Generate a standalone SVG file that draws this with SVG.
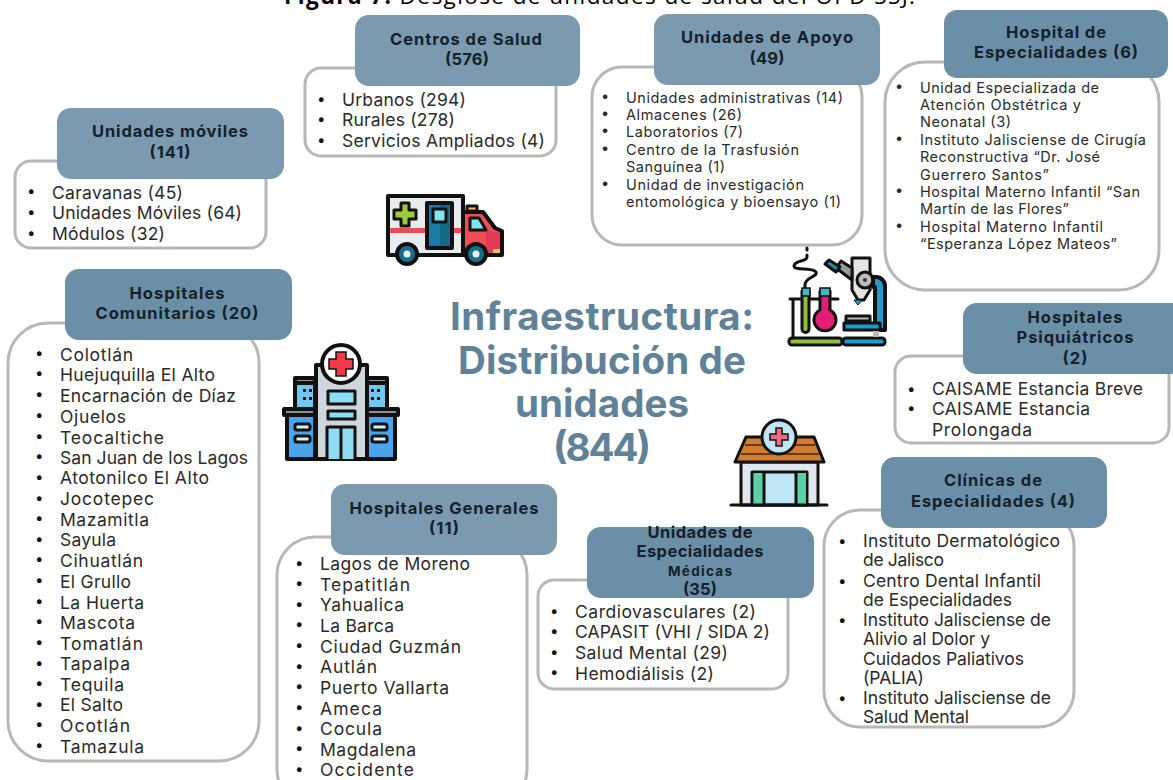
<svg xmlns="http://www.w3.org/2000/svg" width="1173" height="780" viewBox="0 0 1173 780">
<style>
text{font-family:"Inter","Noto Sans","Liberation Sans",sans-serif;fill:#222}
.body{fill:#fff;stroke:#b7b7b7;stroke-width:3}
.h1{fill:#7b9aaf}.h2{fill:#6b8fa6}
.hd{font-weight:700;font-size:16.5px;fill:#14202a;text-anchor:middle}
.l{font-size:17.5px;fill:#2a2a2a}
.s{font-size:14.5px;fill:#2a2a2a}
.b{font-size:15px;fill:#111}
.t{font-size:38.5px;font-weight:700;fill:#5f8298;text-anchor:middle}
.k{stroke:#111;stroke-width:4;stroke-linejoin:round;stroke-linecap:round}
.k2{stroke:#111;stroke-width:3;stroke-linejoin:round;stroke-linecap:round}
</style>
<rect width="1173" height="780" fill="#fff"/>
<g id="title"><text x="284" y="4" textLength="631" style="font-family:'Open Sans','Liberation Sans',sans-serif;font-size:22.5px;fill:#000;font-weight:500"><tspan font-weight="700">Figura 7.</tspan> Desglose de unidades de salud del OPD SSJ.</text></g>

<g id="centros-salud">
<rect class="body" x="305" y="68" width="251" height="88" rx="16"/>
<rect class="h1" x="355" y="15" width="225" height="71" rx="14"/>
<text class="hd" x="466" y="45" textLength="152">Centros de Salud</text><text class="hd" x="467" y="65" textLength="44">(576)</text>
<text class="b" x="317" y="104">•</text><text class="l" x="342" y="106" textLength="124">Urbanos (294)</text>
<text class="b" x="317" y="124">•</text><text class="l" x="342" y="126" textLength="113">Rurales (278)</text>
<text class="b" x="317" y="145">•</text><text class="l" x="342" y="147" textLength="203">Servicios Ampliados (4)</text>
</g>

<g id="unidades-apoyo">
<rect class="body" x="592" y="67" width="270" height="178" rx="30"/>
<rect class="h1" x="654" y="14" width="226" height="71" rx="14"/>
<text class="hd" x="767" y="43" textLength="172">Unidades de Apoyo</text><text class="hd" x="767" y="64" textLength="35">(49)</text>
<text class="s" x="601" y="101">•</text><text class="s" x="626" y="103" textLength="217">Unidades administrativas (14)</text>
<text class="s" x="601" y="118">•</text><text class="s" x="626" y="120" textLength="116">Almacenes (26)</text>
<text class="s" x="601" y="135">•</text><text class="s" x="626" y="137" textLength="117">Laboratorios (7)</text>
<text class="s" x="601" y="153">•</text><text class="s" x="626" y="155" textLength="173">Centro de la Trasfusión</text>
<text class="s" x="626" y="172" textLength="99">Sanguínea (1)</text>
<text class="s" x="601" y="188">•</text><text class="s" x="626" y="190" textLength="178">Unidad de investigación</text>
<text class="s" x="626" y="207" textLength="215">entomológica y bioensayo (1)</text>
</g>

<g id="hospital-especialidades">
<rect class="body" x="885" y="62" width="274" height="228" rx="40"/>
<rect class="h2" x="944" y="10" width="224" height="68" rx="13"/>
<text class="hd" x="1056" y="38" textLength="100">Hospital de</text><text class="hd" x="1056" y="58" textLength="164">Especialidades (6)</text>
<text class="s" x="895" y="91">•</text><text class="s" x="920" y="93" textLength="179">Unidad Especializada de</text>
<text class="s" x="920" y="110" textLength="161">Atención Obstétrica y</text>
<text class="s" x="920" y="127" textLength="91">Neonatal (3)</text>
<text class="s" x="895" y="143">•</text><text class="s" x="920" y="145" textLength="226">Instituto Jalisciense de Cirugía</text>
<text class="s" x="920" y="162" textLength="180">Reconstructiva “Dr. José</text>
<text class="s" x="920" y="180" textLength="129">Guerrero Santos”</text>
<text class="s" x="895" y="195">•</text><text class="s" x="920" y="197" textLength="220">Hospital Materno Infantil “San</text>
<text class="s" x="920" y="214" textLength="149">Martín de las Flores”</text>
<text class="s" x="895" y="230">•</text><text class="s" x="920" y="232" textLength="183">Hospital Materno Infantil</text>
<text class="s" x="920" y="249" textLength="197">“Esperanza López Mateos”</text>
</g>

<g id="unidades-moviles">
<rect class="body" x="15" y="161" width="251" height="87" rx="16"/>
<rect class="h1" x="57" y="108" width="227" height="71" rx="14"/>
<text class="hd" x="170" y="137" textLength="156">Unidades móviles</text><text class="hd" x="170" y="158" textLength="41">(141)</text>
<text class="b" x="27" y="196">•</text><text class="l" x="52" y="199" textLength="131">Caravanas (45)</text>
<text class="b" x="27" y="217">•</text><text class="l" x="52" y="219" textLength="190">Unidades Móviles (64)</text>
<text class="b" x="27" y="238">•</text><text class="l" x="52" y="240" textLength="113">Módulos (32)</text>
</g>

<g id="hospitales-comunitarios">
<rect class="body" x="8" y="323" width="251" height="438" rx="40"/>
<rect class="h2" x="65" y="269" width="227" height="71" rx="14"/>
<text class="hd" x="177" y="299" textLength="95">Hospitales</text><text class="hd" x="177" y="319" textLength="163">Comunitarios (20)</text>
<text class="b" x="35" y="358">•</text><text class="l" x="60" y="361" textLength="73">Colotlán</text>
<text class="b" x="35" y="378">•</text><text class="l" x="60" y="381" textLength="155">Huejuquilla El Alto</text>
<text class="b" x="35" y="399">•</text><text class="l" x="60" y="402" textLength="176">Encarnación de Díaz</text>
<text class="b" x="35" y="420">•</text><text class="l" x="60" y="423" textLength="66">Ojuelos</text>
<text class="b" x="35" y="441">•</text><text class="l" x="60" y="444" textLength="104">Teocaltiche</text>
<text class="b" x="35" y="461">•</text><text class="l" x="60" y="464" textLength="188">San Juan de los Lagos</text>
<text class="b" x="35" y="482">•</text><text class="l" x="60" y="484" textLength="149">Atotonilco El Alto</text>
<text class="b" x="35" y="503">•</text><text class="l" x="60" y="505" textLength="94">Jocotepec</text>
<text class="b" x="35" y="523">•</text><text class="l" x="60" y="526" textLength="89">Mazamitla</text>
<text class="b" x="35" y="544">•</text><text class="l" x="60" y="546" textLength="56">Sayula</text>
<text class="b" x="35" y="564">•</text><text class="l" x="60" y="567" textLength="83">Cihuatlán</text>
<text class="b" x="35" y="585">•</text><text class="l" x="60" y="588" textLength="71">El Grullo</text>
<text class="b" x="35" y="606">•</text><text class="l" x="60" y="609" textLength="84">La Huerta</text>
<text class="b" x="35" y="626">•</text><text class="l" x="60" y="629" textLength="75">Mascota</text>
<text class="b" x="35" y="647">•</text><text class="l" x="60" y="650" textLength="83">Tomatlán</text>
<text class="b" x="35" y="668">•</text><text class="l" x="60" y="670" textLength="70">Tapalpa</text>
<text class="b" x="35" y="688">•</text><text class="l" x="60" y="691" textLength="64">Tequila</text>
<text class="b" x="35" y="709">•</text><text class="l" x="60" y="711" textLength="63">El Salto</text>
<text class="b" x="35" y="729">•</text><text class="l" x="60" y="732" textLength="70">Ocotlán</text>
<text class="b" x="35" y="750">•</text><text class="l" x="60" y="753" textLength="84">Tamazula</text>
</g>

<g id="hospitales-generales">
<rect class="body" x="277" y="537" width="250" height="270" rx="38"/>
<rect class="h1" x="331" y="484" width="226" height="71" rx="14"/>
<text class="hd" x="444" y="514" textLength="189">Hospitales Generales</text><text class="hd" x="444" y="534" textLength="30">(11)</text>
<text class="b" x="295" y="568">•</text><text class="l" x="320" y="570" textLength="150">Lagos de Moreno</text>
<text class="b" x="295" y="588">•</text><text class="l" x="320" y="591" textLength="90">Tepatitlán</text>
<text class="b" x="295" y="609">•</text><text class="l" x="320" y="611" textLength="84">Yahualica</text>
<text class="b" x="295" y="629">•</text><text class="l" x="320" y="632" textLength="74">La Barca</text>
<text class="b" x="295" y="650">•</text><text class="l" x="320" y="653" textLength="141">Ciudad Guzmán</text>
<text class="b" x="295" y="671">•</text><text class="l" x="320" y="673" textLength="57">Autlán</text>
<text class="b" x="295" y="691">•</text><text class="l" x="320" y="694" textLength="129">Puerto Vallarta</text>
<text class="b" x="295" y="712">•</text><text class="l" x="320" y="715" textLength="62">Ameca</text>
<text class="b" x="295" y="733">•</text><text class="l" x="320" y="735" textLength="62">Cocula</text>
<text class="b" x="295" y="753">•</text><text class="l" x="320" y="756" textLength="96">Magdalena</text>
<text class="b" x="295" y="774">•</text><text class="l" x="320" y="776" textLength="94">Occidente</text>
</g>

<g id="unidades-especialidades-medicas">
<rect class="body" x="538" y="580" width="250" height="109" rx="16"/>
<rect class="h2" x="587" y="527" width="227" height="71" rx="14"/>
<text class="hd" x="700" y="538" textLength="105">Unidades de</text><text class="hd" x="700" y="557" textLength="127">Especialidades</text>
<text class="hd" x="700" y="576" style="font-size:13.5px" textLength="64">Médicas</text><text class="hd" x="700" y="595" textLength="34">(35)</text>
<text class="b" x="550" y="616">•</text><text class="l" x="575" y="618" textLength="181">Cardiovasculares (2)</text>
<text class="b" x="550" y="636">•</text><text class="l" x="575" y="638" textLength="195">CAPASIT (VHI  / SIDA 2)</text>
<text class="b" x="550" y="657">•</text><text class="l" x="575" y="659" textLength="153">Salud Mental (29)</text>
<text class="b" x="550" y="677">•</text><text class="l" x="575" y="680" textLength="139">Hemodiálisis (2)</text>
</g>

<g id="clinicas-especialidades">
<rect class="body" x="824" y="510" width="250" height="217" rx="36"/>
<rect class="h2" x="881" y="457" width="226" height="71" rx="14"/>
<text class="hd" x="993" y="486" textLength="98">Clínicas de</text><text class="hd" x="993" y="507" textLength="164">Especialidades (4)</text>
<text class="b" x="838" y="546">•</text><text class="l" x="863" y="547" textLength="197">Instituto Dermatológico</text>
<text class="l" x="863" y="566" textLength="81">de Jalisco</text>
<text class="b" x="838" y="586">•</text><text class="l" x="863" y="587" textLength="178">Centro Dental Infantil</text>
<text class="l" x="863" y="606" textLength="149">de Especialidades</text>
<text class="b" x="838" y="625">•</text><text class="l" x="863" y="626" textLength="188">Instituto Jalisciense de</text>
<text class="l" x="863" y="645" textLength="127">Alivio al Dolor y</text>
<text class="l" x="863" y="665" textLength="161">Cuidados Paliativos</text>
<text class="l" x="863" y="684" textLength="61">(PALIA)</text>
<text class="b" x="838" y="703">•</text><text class="l" x="863" y="704" textLength="188">Instituto Jalisciense de</text>
<text class="l" x="863" y="723" textLength="106">Salud Mental</text>
</g>

<g id="hospitales-psiquiatricos">
<rect class="body" x="895" y="356" width="274" height="87" rx="16"/>
<rect class="h2" x="963" y="303" width="225" height="71" rx="14"/>
<text class="hd" x="1075" y="323" textLength="95">Hospitales</text><text class="hd" x="1075" y="343" textLength="117">Psiquiátricos</text><text class="hd" x="1075" y="364" textLength="25">(2)</text>
<text class="b" x="907" y="394">•</text><text class="l" x="932" y="395" textLength="211">CAISAME Estancia Breve</text>
<text class="b" x="907" y="413">•</text><text class="l" x="932" y="415" textLength="158">CAISAME Estancia</text>
<text class="l" x="932" y="436" textLength="100">Prolongada</text>
</g>

<g id="infraestructura">
<text class="t" x="602" y="330" textLength="304">Infraestructura:</text>
<text class="t" x="602" y="374" textLength="288">Distribución de</text>
<text class="t" x="602" y="417" textLength="174">unidades</text>
<text class="t" x="602" y="461" textLength="98">(844)</text>
</g>

<g id="icono-ambulancia">
<path class="k" d="M388 196h75v59h-75z" fill="#e8ecec"/>
<path d="M390 228h72v5h-72z" fill="#ef4b55"/>
<path class="k" d="M463 212h20l12 16 7 3v24h-39z" fill="#f04d57"/>
<path d="M486 230l14 3v20h-14z" fill="#e23a55"/>
<path class="k2" d="M470 218h9l7 12h-16z" fill="#7fe5ee"/>
<path class="k" d="M427 203h25v45h-25z" fill="#1b7ba3"/>
<path d="M440 205h10v41h-10z" fill="#146a85"/>
<rect class="k2" x="433" y="209" width="13" height="13" fill="#7fe5ee"/>
<path class="k2" d="M401 203h8v7h7v9h-7v7h-8v-7h-7v-9h7z" fill="#9ccc3c"/>
<path class="k2" d="M467 211v-5h10v5z" fill="#f6c93e"/>
<rect x="493" y="249" width="7" height="4" fill="#f6c93e"/>
<circle class="k" cx="407" cy="254" r="10" fill="#156e8c"/><circle cx="407" cy="254" r="3.5" fill="#eee"/>
<circle class="k" cx="476" cy="254" r="10" fill="#156e8c"/><circle cx="476" cy="254" r="3.5" fill="#eee"/>
</g>

<g id="icono-laboratorio">
<path class="k2" fill="none" d="M807 248v2M807 255v2c0 5-13 3-13 9 0 5 19 1 22 6 2 5-11 5-11 13v4"/>
<rect class="k2" x="789" y="338" width="53" height="7" rx="3" fill="#8fbf3f"/>
<rect class="k2" x="843" y="338" width="42" height="7" rx="3" fill="#1f9ccd"/>
<path class="k2" fill="none" d="M790 299h48M793 299v39"/>
<path class="k2" d="M802 291v38a3 3 0 0 0 7 0v-38z" fill="#8fbf3f"/>
<path class="k2" d="M820 291v19a11 11 0 1 0 10 0v-19z" fill="#e01f74"/>
<path d="M802 288h8v8h-8zM820 288h10v8h-10z" fill="#44b6c4" stroke="#111" stroke-width="1.5"/>
<path class="k2" d="M852 258h18v32l-6 10h-6l-6-10z" fill="#e4e4e4"/>
<path class="k2" d="M836 268l5-7 11 7v12z" fill="#9a9a9a"/>
<path class="k2" d="M825 264l4-4 11 7-4 5z" fill="#1f8fb5"/>
<path d="M854 300h8l-4 5z" fill="#1f9ccd" stroke="#111"/>
<circle class="k2" cx="865" cy="280" r="8" fill="#bbb"/><circle cx="865" cy="280" r="2" fill="#333"/>
<path class="k" d="M873 277h3a9 9 0 0 1 9 9v44h-10v-43h-2z" fill="#1f9ccd"/>
<path class="k2" d="M844 323h36v7h-36z" fill="#1f9ccd"/>
<path class="k2" d="M846 316h24v5h-24z" fill="#bbb"/>
<rect x="873" y="331" width="6" height="6" fill="#bbb"/>
</g>

<g id="icono-hospital">
<path class="k" d="M295 381h20v30h-20zM367 381h20v30h-20z" fill="#6fc8f2"/>
<path class="k" d="M287 412h28v47h-28zM367 412h28v47h-28z" fill="#4ba3ea"/>
<path class="k" d="M295 378h20v5h-20zM367 378h20v5h-20z" fill="#8a9298"/>
<path class="k" d="M284 409h31v6h-31zM367 409h31v6h-31z" fill="#8a9298"/>
<path class="k" d="M316 365h51v94h-51z" fill="#ced8dc"/>
<circle class="k" cx="341" cy="364" r="19" fill="#fff"/>
<path d="M336 352h10v7h7v10h-7v7h-10v-7h-7v-10h7z" fill="#ef3a48" stroke="#111" stroke-width="1.5"/>
<rect class="k2" x="328" y="391" width="27" height="13" fill="#8fdcf5"/>
<rect class="k2" x="328" y="411" width="27" height="8" fill="#8fdcf5"/>
<path class="k2" d="M327 459v-32h28v32M341 427v32" fill="#8fdcf5"/>
<rect class="k2" x="295" y="424" width="15" height="6" rx="2" fill="#d5f0fa"/><rect class="k2" x="295" y="436" width="15" height="6" rx="2" fill="#d5f0fa"/>
<rect class="k2" x="372" y="424" width="15" height="6" rx="2" fill="#d5f0fa"/><rect class="k2" x="372" y="436" width="15" height="6" rx="2" fill="#d5f0fa"/>
<path d="M303 389h3v3h-3zM309 389h3v3h-3zM303 397h3v3h-3zM309 397h3v3h-3zM371 389h3v3h-3zM377 389h3v3h-3zM371 397h3v3h-3zM377 397h3v3h-3z" fill="#111"/>
</g>

<g id="icono-clinica">
<path class="k2" d="M741 462h77v43h-77z" fill="#dfe8ee"/>
<path class="k2" d="M746 437h68l10 25h-89z" fill="#d37b2e"/>
<path stroke="#6b3a12" stroke-width="2" d="M745 445h70M741 454h78"/>
<path class="k2" d="M752 472h55v33h-55z" fill="#bfe6f7"/>
<rect x="754" y="473" width="9" height="32" fill="#58d3a5"/><rect x="797" y="473" width="9" height="32" fill="#58d3a5"/>
<path class="k2" d="M764 473v32M796 473v32M731 505h96"/>
<circle class="k2" cx="779" cy="437" r="17" fill="#bfe6f7"/>
<path d="M776 428h6v6h6v6h-6v6h-6v-6h-6v-6h6z" fill="#ef6b80" stroke="#111" stroke-width="1.5"/>
</g>
</svg>
